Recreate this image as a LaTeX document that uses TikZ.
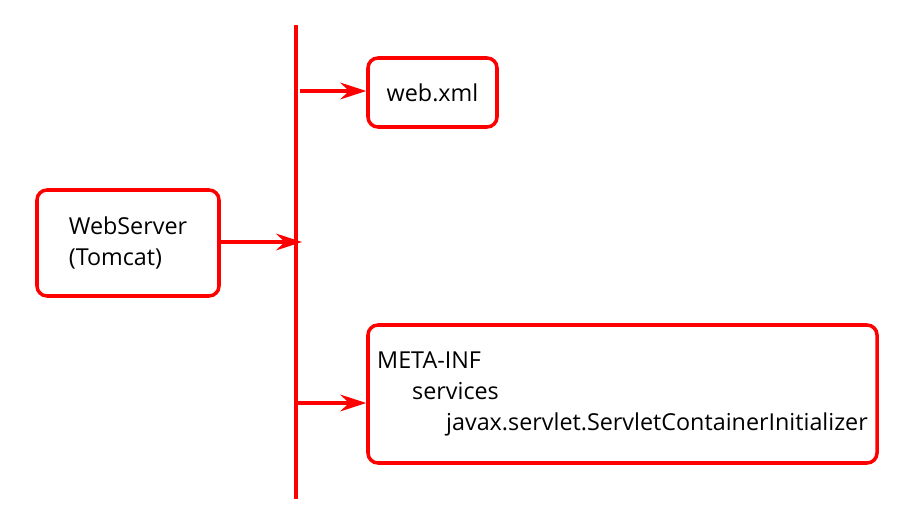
\documentclass[tikz,border=0pt]{standalone}
\usepackage{fontspec}
\setmainfont{Open Sans}
\usetikzlibrary{arrows.meta}
\begin{document}
\begin{tikzpicture}[x=1cm,y=1cm,
  box/.style={draw=red, line width=2.5pt, rounded corners=0.25cm, align=left,
    font=\fontsize{16.6}{22}\selectfont, inner sep=0pt},
  flow/.style={draw=red, line width=2.3pt,
    -{Stealth[length=0.65cm,width=0.42cm,inset=0.22cm]}}]
\useasboundingbox (0,0) rectangle (22.775,-13.175);

\node[box, minimum width=4.55cm, minimum height=2.65cm] (ws) at (3.2,-6.075) {WebServer\\(Tomcat)};
\node[box, minimum width=3.225cm, minimum height=1.725cm] (web) at (10.8125,-2.3125) {web.xml};
\node[box, minimum width=12.725cm, minimum height=3.45cm] (meta) at (15.5625,-9.85)
  {META-INF\\\hspace*{0.875cm}services\\\hspace*{1.725cm}javax.servlet.ServletContainerInitializer};

\coordinate (top) at (7.4,-0.625);
\coordinate (bot) at (7.4,-12.475);
\coordinate (j1) at (7.5,-2.275);
\coordinate (j2) at (7.55,-6.05);
\coordinate (j3) at (7.4,-10.075);

\draw[red, line width=2.6pt] (top) -- (bot);
\draw[flow] (j1) -- (j1 -| web.west);
\draw[flow] (ws.east |- j2) -- (j2);
\draw[flow] (j3) -- (j3 -| meta.west);
\end{tikzpicture}
\end{document}
